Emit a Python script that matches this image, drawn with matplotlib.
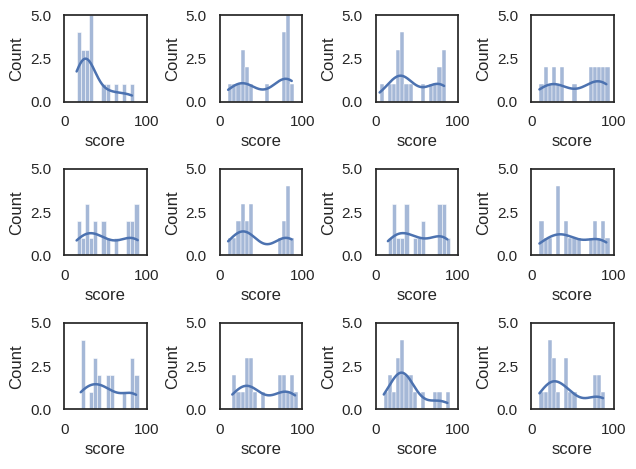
import matplotlib
matplotlib.use("Agg")
import matplotlib.pyplot as plt
import numpy as np
import seaborn as sns

# scores for each of the 12 panels (5-point bins)
scores_1 = [15, 16, 18, 19, 21, 22, 24, 26, 27, 29, 30, 31, 32, 33, 34, 47, 52, 62, 72, 82]
scores_2 = [10, 17, 22, 26, 27, 28, 31, 33, 37, 57, 76, 77, 78, 79, 80, 81, 82, 83, 84, 87]
scores_3 = [5, 17, 22, 26, 27, 29, 31, 32, 33, 34, 37, 42, 57, 67, 72, 76, 78, 80, 81, 83]
scores_4 = [10, 16, 18, 22, 26, 28, 32, 36, 38, 52, 71, 73, 76, 78, 81, 83, 86, 88, 90, 91]
scores_5 = [15, 18, 22, 26, 27, 29, 32, 36, 38, 46, 48, 52, 62, 76, 78, 81, 83, 86, 87, 89]
scores_6 = [10, 17, 21, 23, 26, 27, 29, 31, 33, 36, 37, 38, 72, 76, 78, 81, 82, 83, 84, 87]
scores_7 = [15, 21, 22, 24, 27, 32, 36, 37, 38, 47, 52, 56, 58, 76, 77, 78, 81, 82, 83, 87]
scores_8 = [10, 12, 17, 22, 31, 32, 33, 34, 41, 43, 47, 52, 57, 72, 76, 78, 82, 86, 88, 91]
scores_9 = [20, 21, 22, 24, 32, 36, 37, 38, 41, 43, 51, 53, 56, 58, 72, 81, 82, 83, 86, 87]
scores_10 = [15, 17, 22, 27, 31, 32, 33, 36, 37, 38, 42, 52, 71, 73, 76, 78, 82, 86, 88, 91]
scores_11 = [10, 16, 18, 22, 26, 27, 28, 31, 32, 33, 34, 36, 38, 41, 43, 47, 57, 72, 77, 87]
scores_12 = [10, 17, 21, 22, 23, 24, 26, 27, 28, 32, 41, 42, 43, 47, 52, 76, 78, 81, 83, 87]

panels = [scores_1, scores_2, scores_3, scores_4, scores_5, scores_6,
          scores_7, scores_8, scores_9, scores_10, scores_11, scores_12]
BIN_WIDTH = 5

sns.set_theme(style="white")
plt.rcParams['font.family'] = ['Liberation Sans', 'DejaVu Sans']

fig, axes = plt.subplots(3, 4, figsize=(6.36, 4.69), dpi=100)
fig.subplots_adjust(left=0.101, right=0.965, top=0.968, bottom=0.127,
                    wspace=0.885, hspace=0.78)

for ax, scores in zip(axes.flat, panels):
    edges = np.arange(min(scores), max(scores) + BIN_WIDTH, BIN_WIDTH)
    sns.histplot(x=scores, bins=edges, kde=True, ax=ax, line_kws={"linewidth": 1.8})
    ax.set(xlim=(0, 100), ylim=(0, 5), xlabel="score", ylabel="Count")
    ax.set_xticks([0, 100])
    ax.set_yticks([0, 2.5, 5])

fig.savefig("out.png", dpi=100)
